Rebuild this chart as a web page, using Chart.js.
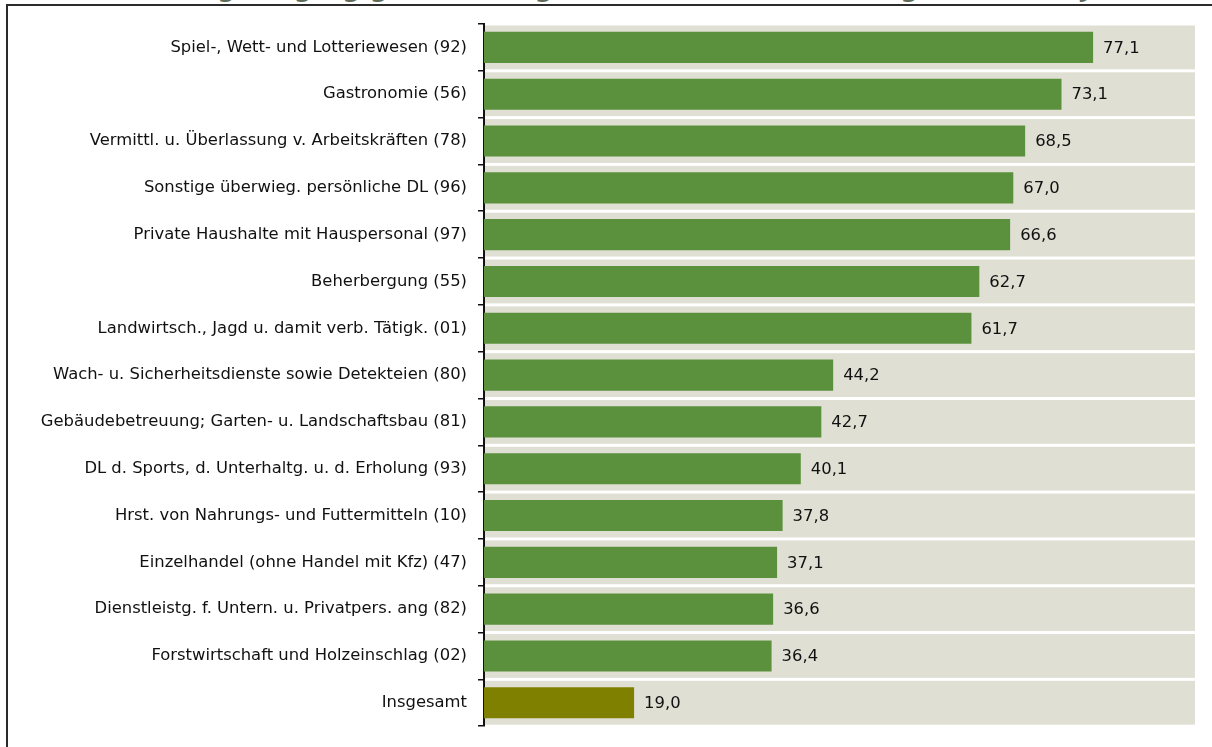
<!DOCTYPE html>
<html>
<head>
<meta charset="utf-8">
<script src="https://cdn.jsdelivr.net/npm/chart.js@4"></script>
<style>
  html,body{margin:0;padding:0;background:#fff;overflow:hidden;}
  #wrap{position:relative;width:1212px;height:747px;}
  #title{position:absolute;left:0;width:1352px;top:-28px;text-align:center;
    font:bold 26px "DejaVu Sans",sans-serif;color:#5d6b58;white-space:nowrap;}
  #frame{position:absolute;left:6px;top:4px;width:1210px;height:750px;
    border-top:2px solid #2b2b2b;border-left:2px solid #2b2b2b;}
  canvas{position:absolute;left:0;top:0;}
</style>
</head>
<body>
<div id="wrap">
  <div id="title">Anteil geringfügig Beschäftigter (in % aller Beschäftigten, Stand Juni 2019)</div>
  <div id="frame"></div>
  <canvas id="chart" width="1212" height="747"></canvas>
</div>
<script>
const categories=[
  "Spiel-, Wett- und Lotteriewesen (92)",
  "Gastronomie (56)",
  "Vermittl. u. Überlassung v. Arbeitskräften (78)",
  "Sonstige überwieg. persönliche DL (96)",
  "Private Haushalte mit Hauspersonal (97)",
  "Beherbergung (55)",
  "Landwirtsch., Jagd u. damit verb. Tätigk. (01)",
  "Wach- u. Sicherheitsdienste sowie Detekteien (80)",
  "Gebäudebetreuung; Garten- u. Landschaftsbau (81)",
  "DL d. Sports, d. Unterhaltg. u. d. Erholung (93)",
  "Hrst. von Nahrungs- und Futtermitteln (10)",
  "Einzelhandel (ohne Handel mit Kfz) (47)",
  "Dienstleistg. f. Untern. u. Privatpers. ang (82)",
  "Forstwirtschaft und Holzeinschlag (02)",
  "Insgesamt"
];
const values=[77.1,73.1,68.5,67.0,66.6,62.7,61.7,44.2,42.7,40.1,37.8,37.1,36.6,36.4,19.0];
const axisMax=90;

const green="#5b913c", olive="#808000", bandColor="#dfe0d3";
const barColors=categories.map(c=>c=="Insgesamt"?olive:green);

// grey band behind every category
const bands={
  id:"bands",
  beforeDatasetsDraw(chart){
    const ctx=chart.ctx, y=chart.scales.y, area=chart.chartArea;
    const pitch=y.height/categories.length;
    ctx.save();
    ctx.fillStyle=bandColor;
    categories.forEach((c,i)=>{
      let cy=y.getPixelForValue(i);
      ctx.fillRect(area.left+1,cy-pitch/2+1.5,area.right-area.left-1,pitch-3);
    });
    ctx.restore();
  }
};

// value labels right of the bars
const valueLabels={
  id:"valueLabels",
  afterDatasetsDraw(chart){
    const ctx=chart.ctx;
    const meta=chart.getDatasetMeta(0);
    ctx.save();
    ctx.font='16.4px "DejaVu Sans", sans-serif';
    ctx.fillStyle="#111";
    ctx.textBaseline="middle";
    meta.data.forEach((bar,i)=>{
      ctx.fillText(values[i].toFixed(1).replace(".",","),bar.x+10,bar.y+1);
    });
    ctx.restore();
  }
};

new Chart(document.getElementById("chart").getContext("2d"),{
  type:"bar",
  data:{
    labels:categories,
    datasets:[{
      data:values,
      backgroundColor:barColors,
      borderWidth:0,
      barPercentage:0.7,
      categoryPercentage:0.95
    }]
  },
  options:{
    indexAxis:"y",
    responsive:false,
    animation:false,
    layout:{padding:{top:24,right:17,bottom:7,left:0}},
    plugins:{legend:{display:false},tooltip:{enabled:false},title:{display:false}},
    scales:{
      x:{display:false,min:0,max:axisMax},
      y:{
        afterFit(scale){scale.width=484;},
        grid:{display:true,drawOnChartArea:false,drawTicks:true,tickLength:6,color:"#111",lineWidth:1.5,offset:true},
        border:{display:true,color:"#111",width:2},
        ticks:{color:"#111",padding:11,font:{family:"DejaVu Sans",size:16.4}}
      }
    }
  },
  plugins:[bands,valueLabels]
});
</script>
</body>
</html>
